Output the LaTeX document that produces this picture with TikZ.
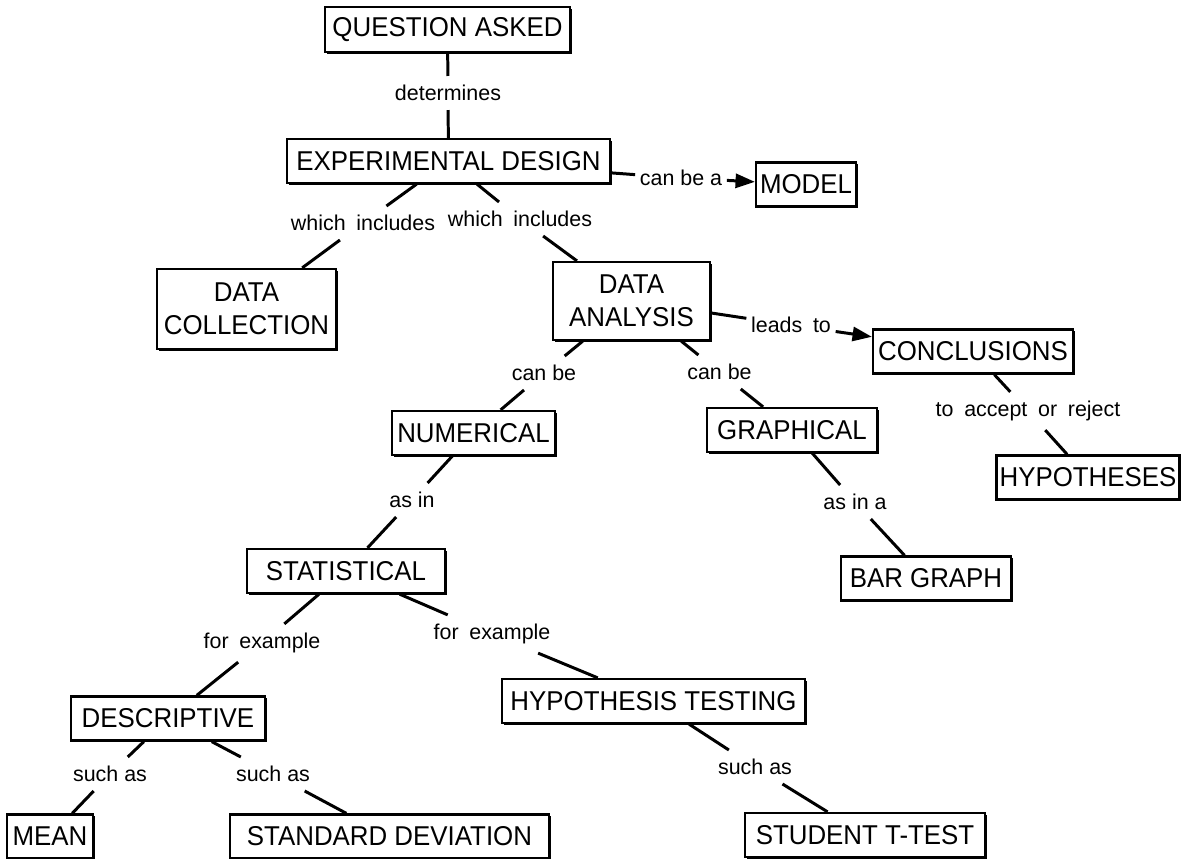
\documentclass[tikz,border=0pt]{standalone}
\usepackage{fontspec}
\setmainfont{Liberation Sans}
\newfontfamily\conceptfont[FakeStretch=0.95]{Liberation Sans}
\usetikzlibrary{arrows.meta,shadows}
\tikzset{
  concept/.style={draw,line width=1.3pt,fill=white,inner sep=0pt,minimum height=0.88cm,
    align=center,font=\conceptfont\fontsize{15.5}{18.7}\selectfont,
    drop shadow={shadow xshift=1.1pt,shadow yshift=-1.1pt,fill=black,opacity=1}},
  linkword/.style={inner xsep=2.5pt,inner ysep=5pt,font=\fontsize{12.2}{14}\selectfont},
  link/.style={line width=1.7pt},
  linkarrow/.style={line width=1.7pt,-{Triangle[length=11pt,width=8pt]}}
}
\newcommand{\wgap}{\hspace{0.5em}}
\begin{document}
\begin{tikzpicture}[x=0.02cm,y=-0.02cm]
\useasboundingbox(0,0)rectangle(1181,859);
\node[concept,minimum width=4.9cm,minimum height=0.9cm](qa)at(447.5,29.5){QUESTION ASKED};
\node[concept,minimum width=6.46cm](exp)at(448.5,161){EXPERIMENTAL DESIGN};
\node[concept,minimum width=2.0cm](model)at(806,184.5){MODEL};
\node[concept,minimum width=3.58cm,minimum height=1.6cm](dc)at(246.5,309){DATA\\COLLECTION};
\node[concept,minimum width=3.14cm,minimum height=1.56cm](da)at(631.5,301){DATA\\ANALYSIS};
\node[concept,minimum width=4.0cm](concl)at(973,351.5){CONCLUSIONS};
\node[concept,minimum width=3.26cm](num)at(473.5,433){NUMERICAL};
\node[concept,minimum width=3.4cm](graph)at(792,430){GRAPHICAL};
\node[concept,minimum width=3.66cm](hyp)at(1088,477.5){HYPOTHESES};
\node[concept,minimum width=3.96cm](stat)at(346,571){STATISTICAL};
\node[concept,minimum width=3.4cm](bar)at(926,578.5){BAR GRAPH};
\node[concept,minimum width=3.88cm](desc)at(168,718.5){DESCRIPTIVE};
\node[concept,minimum width=6.06cm](ht)at(653.5,701){HYPOTHESIS TESTING};
\node[concept,minimum width=1.72cm](mean)at(50,836.5){MEAN};
\node[concept,minimum width=6.38cm](sd)at(389.5,836.5){STANDARD DEVIATION};
\node[concept,minimum width=4.8cm](stt)at(865,835){STUDENT T-TEST};
\node[linkword](det)at(448,93){determines};
\node[linkword](canbea)at(681,178){can be a};
\node[linkword](wi1)at(363,223){which\wgap includes};
\node[linkword](wi2)at(520,219){which\wgap includes};
\node[linkword](leads)at(791,325){leads\wgap to};
\node[linkword](cb1)at(544,373){can be};
\node[linkword](cb2)at(719.5,372){can be};
\node[linkword](accept)at(1028,411){to\wgap accept\wgap or\wgap reject};
\node[linkword](asin)at(412,500){as in};
\node[linkword](asina)at(855,502){as in a};
\node[linkword](fe1)at(262,643){for\wgap example};
\node[linkword](fe2)at(492,634){for\wgap example};
\node[linkword](sa1)at(110,774){such as};
\node[linkword](sa2)at(273,774){such as};
\node[linkword](sa3)at(755,767){such as};
\draw[link](qa)--(det)(det)--(exp)(exp)--(canbea);
\draw[linkarrow](canbea)--(model);
\draw[link](exp)--(wi1)(wi1)--(dc)(exp)--(wi2)(wi2)--(da)(da)--(leads);
\draw[linkarrow](leads)--(concl);
\draw[link](da)--(cb1)(cb1)--(num)(da)--(cb2)(cb2)--(graph)
(concl)--(accept)(accept)--(hyp)(num)--(asin)(asin)--(stat)
(graph)--(asina)(asina)--(bar)(stat)--(fe1)(fe1)--(desc)(stat)--(fe2)(fe2)--(ht)
(desc)--(sa1)(sa1)--(mean)(desc)--(sa2)(sa2)--(sd)(ht)--(sa3)(sa3)--(stt);
\end{tikzpicture}
\end{document}
